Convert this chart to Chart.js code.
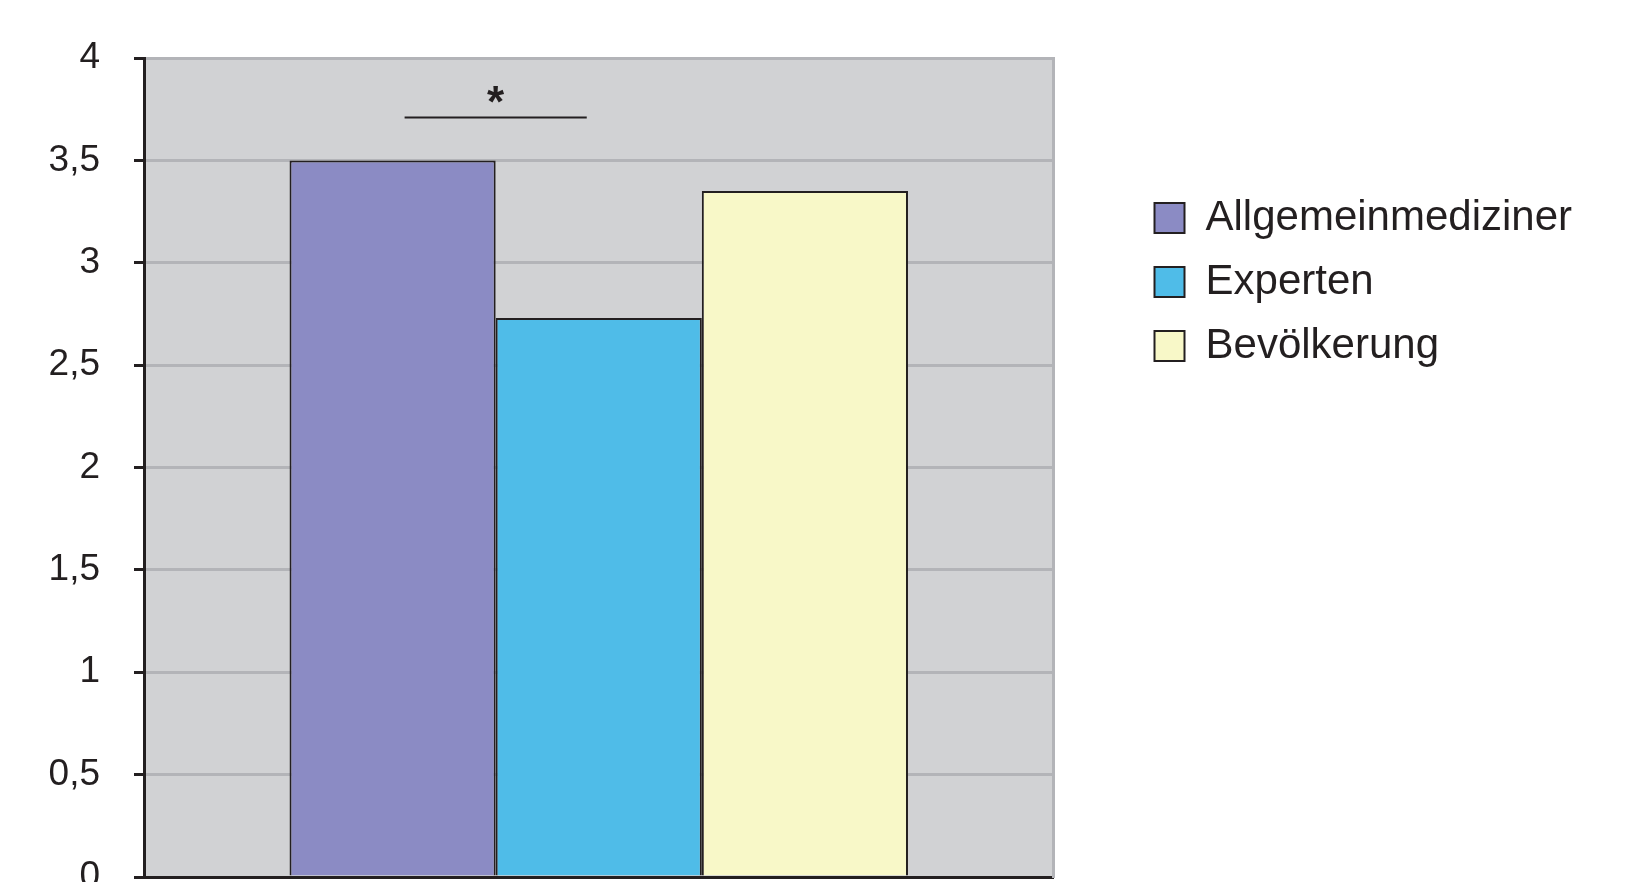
<!DOCTYPE html>
<html>
<head>
<meta charset="utf-8">
<script src="https://cdn.jsdelivr.net/npm/chart.js@4"></script>
<style>
  html, body { margin: 0; padding: 0; background: #fff; overflow: hidden; }
  canvas { display: block; }
</style>
</head>
<body>
<canvas id="myChart" width="1642" height="905"></canvas>
<script>
const categories = [''];
const seriesNames = ['Allgemeinmediziner', 'Experten', 'Bevölkerung'];
const seriesValues = [3.5, 2.73, 3.35];
const seriesColors = ['#8b8bc4', '#4fbce8', '#f8f8c8'];
const yTicks = [0, 0.5, 1, 1.5, 2, 2.5, 3, 3.5, 4];
const tickLabels = ['0', '0,5', '1', '1,5', '2', '2,5', '3', '3,5', '4'];
// significance bracket: between dataset 0 and 1, at this y value
const sigPair = [0, 1];
const sigLevel = 3.71;
const sigMark = '*';

const ink = '#231f20';
const font = '"Liberation Sans", Arial, sans-serif';

const plotBg = {
  id: 'plotBg',
  beforeDraw(chart) {
    const {ctx, chartArea: a} = chart;
    ctx.save();
    ctx.fillStyle = '#d1d2d4';
    ctx.fillRect(a.left, a.top, a.right - a.left, a.bottom - a.top);
    ctx.restore();
  }
};

const sigBracket = {
  id: 'sigBracket',
  afterDatasetsDraw(chart) {
    const {ctx} = chart;
    const b0 = chart.getDatasetMeta(sigPair[0]).data[0];
    const b1 = chart.getDatasetMeta(sigPair[1]).data[0];
    const y = chart.scales.y.getPixelForValue(sigLevel);
    const x0 = b0.x + 12, x1 = b1.x - 12;
    ctx.save();
    ctx.strokeStyle = ink;
    ctx.lineWidth = 2;
    ctx.beginPath();
    ctx.moveTo(x0, y);
    ctx.lineTo(x1, y);
    ctx.stroke();
    ctx.fillStyle = ink;
    ctx.font = 'bold 44px ' + font;
    ctx.textAlign = 'center';
    ctx.textBaseline = 'alphabetic';
    ctx.fillText(sigMark, (x0 + x1) / 2, y);
    ctx.restore();
  }
};

const ctx = document.getElementById('myChart');
new Chart(ctx, {
  type: 'bar',
  data: {
    labels: categories,
    datasets: seriesNames.map((name, i) => ({
      label: name,
      data: [seriesValues[i]],
      backgroundColor: seriesColors[i],
      borderColor: ink,
      borderWidth: 2,
      barPercentage: 1,
      categoryPercentage: 0.68
    }))
  },
  options: {
    responsive: false,
    animation: false,
    layout: { padding: { top: 58, left: 0, right: 60, bottom: 28 } },
    plugins: {
      tooltip: { enabled: false },
      legend: {
        position: 'right',
        align: 'start',
        maxWidth: 700,
        title: {
          display: true,
          text: ' ',
          font: { size: 10 },
          padding: { top: 105, bottom: 0 }
        },
        labels: {
          boxWidth: 30,
          boxHeight: 30,
          padding: 22,
          color: ink,
          font: { family: font, size: 42 }
        }
      }
    },
    scales: {
      x: {
        afterFit: s => { s.height = 0; },
        grid: { display: false },
        ticks: { display: false },
        border: { display: true, color: ink, width: 3 }
      },
      y: {
        min: 0,
        max: 4,
        afterFit: s => { s.width = 144; s.paddingTop = 0; s.paddingBottom = 0; },
        afterBuildTicks: s => { s.ticks = yTicks.map(v => ({ value: v })); },
        ticks: {
          padding: 34,
          color: ink,
          font: { family: font, size: 37 },
          callback: (v) => tickLabels[yTicks.indexOf(v)]
        },
        grid: {
          color: c => (c.tick && c.tick.value === 0) ? ink : '#b3b4b8',
          lineWidth: 3,
          tickColor: ink,
          tickLength: 10,
          tickWidth: 3
        },
        border: { display: true, color: ink, width: 3 }
      },
      y2: {
        position: 'right',
        display: true,
        afterFit: s => { s.width = 79; },
        grid: { display: false },
        ticks: { display: false },
        border: { display: true, color: '#b3b4b8', width: 3 }
      }
    }
  },
  plugins: [plotBg, sigBracket]
});
</script>
</body>
</html>
